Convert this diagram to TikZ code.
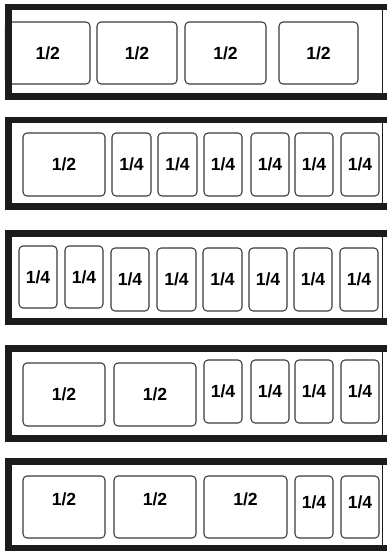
\documentclass[tikz,border=0pt]{standalone}
\usepackage{fontspec}
\setmainfont{Liberation Sans}
\usepackage{xcolor}
\usepackage{tikz}
\definecolor{FrameBlack}{HTML}{1C1C1C}
\definecolor{BoxGray}{HTML}{3A3A3A}

\begin{document}
\begin{tikzpicture}[
    x=0.03cm, y=-0.03cm,
    font=\bfseries\fontsize{15}{17}\selectfont,
    slot/.style={rectangle, rounded corners=0.12cm, draw=BoxGray, line width=0.9pt, fill=white, inner sep=0pt, align=center},
    size/.style 2 args={minimum width=#1*0.03cm, minimum height=#2*0.03cm},
    lift/.style={text depth=#1*0.06cm},
    frame/.style={draw=FrameBlack, line width=0.195cm, line join=miter},
    edge/.style={draw=FrameBlack, line width=0.9pt}
]
\useasboundingbox (0,0) rectangle (387,551);

% row 1
\node[slot, size={84.5}{62}] (p1a) at (47.75,53) {1/2};
\node[slot, size={80}{62}] (p1b) at (137,53) {1/2};
\node[slot, size={81}{62}] (p1c) at (225.5,53) {1/2};
\node[slot, size={79}{62}] (p1d) at (318.5,53) {1/2};
\draw[frame] (387,7) -- (8.5,7) -- (8.5,96.5) -- (387,96.5);
\draw[edge] (382.5,7) -- (382.5,96.5);

% row 2
\node[slot, size={82}{63}] (p2a) at (64,164.5) {1/2};
\node[slot, size={39}{63}] (p2b) at (131.5,164.5) {1/4};
\node[slot, size={39}{63}] (p2c) at (177.5,164.5) {1/4};
\node[slot, size={38}{63}] (p2d) at (223,164.5) {1/4};
\node[slot, size={38}{63}] (p2e) at (270,164.5) {1/4};
\node[slot, size={38}{63}] (p2f) at (314,164.5) {1/4};
\node[slot, size={38}{63}] (p2g) at (360,164.5) {1/4};
\draw[frame] (387,120) -- (8.5,120) -- (8.5,206.5) -- (387,206.5);
\draw[edge] (382.5,120) -- (382.5,206.5);

% row 3
\node[slot, size={38}{62}] (p3a) at (38,277) {1/4};
\node[slot, size={38}{62}] (p3b) at (84,277) {1/4};
\node[slot, size={38}{63}] (p3c) at (130,279.5) {1/4};
\node[slot, size={39}{63}] (p3d) at (176.5,279.5) {1/4};
\node[slot, size={39}{63}] (p3e) at (222.5,279.5) {1/4};
\node[slot, size={38}{63}] (p3f) at (268,279.5) {1/4};
\node[slot, size={38}{63}] (p3g) at (313,279.5) {1/4};
\node[slot, size={38}{63}] (p3h) at (359,279.5) {1/4};
\draw[frame] (387,233.5) -- (8.5,233.5) -- (8.5,321.5) -- (387,321.5);
\draw[edge] (382.5,233.5) -- (382.5,321.5);

% row 4
\node[slot, size={82}{63}] (p4a) at (64,394.5) {1/2};
\node[slot, size={82}{63}] (p4b) at (155,394.5) {1/2};
\node[slot, size={38}{63}] (p4c) at (223,391.5) {1/4};
\node[slot, size={38}{63}] (p4d) at (270,391.5) {1/4};
\node[slot, size={38}{63}] (p4e) at (314,391.5) {1/4};
\node[slot, size={38}{63}] (p4f) at (360,391.5) {1/4};
\draw[frame] (387,348.5) -- (8.5,348.5) -- (8.5,438.5) -- (387,438.5);
\draw[edge] (382.5,348.5) -- (382.5,438.5);

% row 5
\node[slot, size={82}{62}, lift=8] (p5a) at (64,507) {1/2};
\node[slot, size={82}{62}, lift=8] (p5b) at (155,507) {1/2};
\node[slot, size={83}{62}, lift=8] (p5c) at (245.5,507) {1/2};
\node[slot, size={38}{62}, lift=5] (p5d) at (314,507) {1/4};
\node[slot, size={38}{62}, lift=5] (p5e) at (360,507) {1/4};
\draw[frame] (387,461.5) -- (8.5,461.5) -- (8.5,548) -- (387,548);
\draw[edge] (382.5,461.5) -- (382.5,548);
\end{tikzpicture}
\end{document}
